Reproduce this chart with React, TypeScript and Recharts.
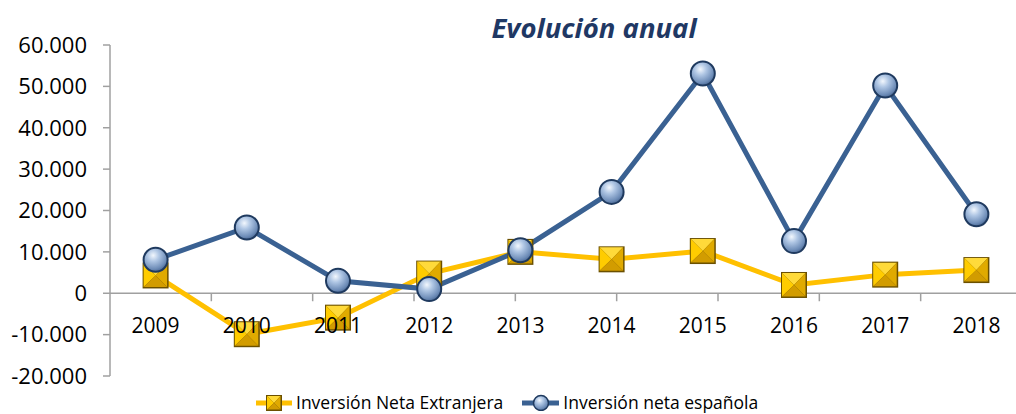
import React from 'react';
import {
  ComposedChart,
  Line,
  XAxis,
  YAxis,
  ReferenceLine,
  ReferenceDot,
} from 'recharts';

const years = ['2009', '2010', '2011', '2012', '2013', '2014', '2015', '2016', '2017', '2018'];
const extranjera = [4300, -9900, -5900, 4750, 10000, 8200, 10200, 2000, 4500, 5600];
const espanola = [8100, 15900, 3000, 1000, 10400, 24500, 53100, 12600, 50200, 19100];
const yTicks = [-20000, -10000, 0, 10000, 20000, 30000, 40000, 50000, 60000];
const boundaries = [1, 2, 3, 4, 5, 6, 7, 8, 9];

const data = years.map((year, i) => ({
  year,
  extranjera: extranjera[i],
  espanola: espanola[i],
}));

const FONT = '"Open Sans", sans-serif';
const YELLOW = '#FFC000';
const BLUE = '#3A6192';
const AXIS = '#A0A0A0';

const fmt = (n: number) => {
  const s = Math.abs(n).toString().replace(/\B(?=(\d{3})+(?!\d))/g, '.');
  return n < 0 ? '-' + s : s;
};

const Pyramid = ({ cx, cy, h }: { cx: number; cy: number; h: number }) => {
  const l = cx - h, r = cx + h, t = cy - h, b = cy + h;
  return (
    <g>
      <rect x={l} y={t} width={h * 2} height={h * 2} fill="#6B5000" />
      <polygon points={`${l + 1},${t + 1} ${r - 1.5},${t + 1} ${cx},${cy}`} fill="#FFDA3A" />
      <polygon points={`${l + 1},${t + 1} ${l + 1},${b - 1.5} ${cx},${cy}`} fill="#FFCC00" />
      <polygon points={`${r - 1.5},${t + 1} ${r - 1.5},${b - 1.5} ${cx},${cy}`} fill="#E0AA00" />
      <polygon points={`${l + 1},${b - 1.5} ${r - 1.5},${b - 1.5} ${cx},${cy}`} fill="#D29C00" />
    </g>
  );
};

const SquareDot = (props: any) => {
  const { cx, cy } = props;
  if (cx == null || cy == null) return null;
  return <Pyramid cx={cx} cy={cy} h={13} />;
};

const BallDot = (props: any) => {
  const { cx, cy } = props;
  if (cx == null || cy == null) return null;
  return <circle cx={cx} cy={cy} r={12} fill="url(#ball)" stroke="#1F3A5F" strokeWidth={2} />;
};

const TickMark = (props: any) => {
  const { cx, cy } = props;
  if (cx == null || cy == null) return null;
  return <line x1={cx} y1={cy} x2={cx} y2={cy + 8} stroke={AXIS} strokeWidth={1.5} />;
};

const YearLabel = (props: any) => {
  const { cx, cy } = props;
  if (cx == null || cy == null) return null;
  return (
    <text x={cx} y={cy + 40} textAnchor="middle" fontFamily={FONT} fontSize={21} fill="#000">
      {props.year}
    </text>
  );
};

const BallGradient = ({ id }: { id: string }) => (
  <radialGradient id={id} cx="40%" cy="32%" r="70%">
    <stop offset="0%" stopColor="#F2F7FD" />
    <stop offset="35%" stopColor="#AFC6E4" />
    <stop offset="80%" stopColor="#6E8DB8" />
    <stop offset="100%" stopColor="#4A6894" />
  </radialGradient>
);

export default function App() {
  return (
    <div style={{ position: 'absolute', left: 0, top: 0, width: 1016, height: 414, overflow: 'hidden', background: '#fff' }}>
      <div
        style={{
          position: 'absolute',
          left: 594,
          top: 10,
          transform: 'translateX(-50%)',
          fontFamily: FONT,
          fontSize: 27.5,
          fontWeight: 700,
          fontStyle: 'italic',
          color: '#1F3864',
          whiteSpace: 'nowrap',
          lineHeight: '36px',
        }}
      >
        Evolución anual
      </div>
      <ComposedChart
        width={1030}
        height={414}
        data={data}
        margin={{ top: 45, right: 8, left: 0, bottom: 38 }}
      >
        <defs>
          <BallGradient id="ball" />
        </defs>
        <XAxis dataKey="year" scale="band" hide />
        <XAxis xAxisId="b" type="number" domain={[0, 10]} hide />
        <YAxis
          domain={[-20000, 60000]}
          ticks={yTicks}
          width={110}
          tickFormatter={fmt}
          tickSize={7}
          tickMargin={16}
          tick={{ fontFamily: FONT, fontSize: 22, fill: '#000' }}
          axisLine={{ stroke: AXIS, strokeWidth: 1.5 }}
          tickLine={{ stroke: AXIS, strokeWidth: 1.5 }}
          interval={0}
        />
        <ReferenceLine y={0} stroke={AXIS} strokeWidth={1.5} />
        {boundaries.map((k) => (
          <ReferenceDot key={k} xAxisId="b" x={k} y={0} r={0} shape={TickMark} />
        ))}
        <Line
          dataKey="extranjera"
          stroke={YELLOW}
          strokeWidth={5}
          dot={<SquareDot />}
          activeDot={false}
          isAnimationActive={false}
        />
        <Line
          dataKey="espanola"
          stroke={BLUE}
          strokeWidth={5}
          dot={<BallDot />}
          activeDot={false}
          isAnimationActive={false}
        />
        {years.map((y) => (
          <ReferenceDot key={y} x={y} y={0} r={0} shape={(p: any) => <YearLabel {...p} year={y} />} />
        ))}
      </ComposedChart>
      <div
        style={{
          position: 'absolute',
          left: 255,
          top: 393,
          display: 'flex',
          alignItems: 'center',
          fontFamily: FONT,
          fontSize: 17.5,
          color: '#000',
          whiteSpace: 'nowrap',
          lineHeight: '18px',
        }}
      >
        <svg width={38} height={18}>
          <line x1={1} y1={10} x2={37} y2={10} stroke={YELLOW} strokeWidth={5} />
          <Pyramid cx={19} cy={10} h={8} />
        </svg>
        <span style={{ marginLeft: 3 }}>Inversión Neta Extranjera</span>
        <svg width={40} height={18} style={{ marginLeft: 18 }}>
          <defs>
            <BallGradient id="ballL" />
          </defs>
          <line x1={1} y1={10} x2={38} y2={10} stroke={BLUE} strokeWidth={5} />
          <circle cx={20} cy={10} r={7.5} fill="url(#ballL)" stroke="#1F3A5F" strokeWidth={1.5} />
        </svg>
        <span style={{ marginLeft: 2 }}>Inversión neta española</span>
      </div>
    </div>
  );
}
